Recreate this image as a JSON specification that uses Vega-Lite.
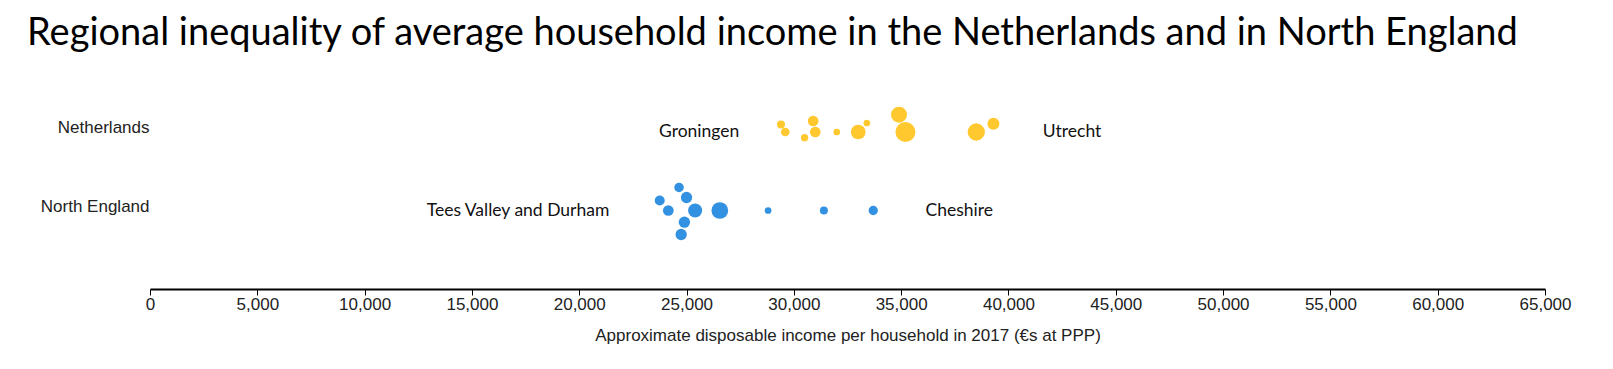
{
  "$schema": "https://vega.github.io/schema/vega-lite/v6.json",
  "width": 1395,
  "height": 235.5,
  "autosize": {"type": "none"},
  "padding": {"left": 150, "right": 68, "top": 53.5, "bottom": 80},
  "background": "white",
  "title": {
    "text": "Regional inequality of average household income in the Netherlands and in North England",
    "anchor": "start",
    "frame": "group",
    "dx": -123,
    "dy": 38.5,
    "font": "Lato",
    "fontSize": 38,
    "fontWeight": "normal",
    "color": "#000",
    "baseline": "alphabetic",
    "offset": 9.5
  },
  "config": {"view": {"stroke": null}},
  "data": {
    "values": [
      {"country": "Netherlands", "income": 29400, "population": 640, "swarm": -7.6, "label": "Groningen"},
      {"country": "Netherlands", "income": 29600, "population": 757, "swarm": 0, "label": ""},
      {"country": "Netherlands", "income": 30900, "population": 1145, "swarm": -11, "label": ""},
      {"country": "Netherlands", "income": 30500, "population": 533, "swarm": 5.7, "label": ""},
      {"country": "Netherlands", "income": 31000, "population": 1145, "swarm": 0, "label": ""},
      {"country": "Netherlands", "income": 32000, "population": 449, "swarm": 0, "label": ""},
      {"country": "Netherlands", "income": 33000, "population": 2161, "swarm": 0, "label": ""},
      {"country": "Netherlands", "income": 33400, "population": 449, "swarm": -9, "label": ""},
      {"country": "Netherlands", "income": 34900, "population": 2560, "swarm": -17.3, "label": ""},
      {"country": "Netherlands", "income": 35200, "population": 4000, "swarm": 0, "label": ""},
      {"country": "Netherlands", "income": 38500, "population": 2993, "swarm": 0, "label": ""},
      {"country": "Netherlands", "income": 39300, "population": 1440, "swarm": -8.3, "label": "Utrecht"},
      {"country": "North England", "income": 23750, "population": 1000, "swarm": -10, "label": "Tees Valley and Durham"},
      {"country": "North England", "income": 24150, "population": 1145, "swarm": 0, "label": ""},
      {"country": "North England", "income": 24650, "population": 903, "swarm": -23, "label": ""},
      {"country": "North England", "income": 25000, "population": 1277, "swarm": -13, "label": ""},
      {"country": "North England", "income": 25400, "population": 1960, "swarm": 0, "label": ""},
      {"country": "North England", "income": 24900, "population": 1277, "swarm": 11.7, "label": ""},
      {"country": "North England", "income": 24750, "population": 1277, "swarm": 24, "label": ""},
      {"country": "North England", "income": 26550, "population": 2789, "swarm": 0, "label": ""},
      {"country": "North England", "income": 28800, "population": 449, "swarm": 0, "label": ""},
      {"country": "North England", "income": 31400, "population": 640, "swarm": 0, "label": ""},
      {"country": "North England", "income": 33700, "population": 865, "swarm": 0, "label": "Cheshire"}
    ]
  },
  "encoding": {
    "x": {
      "field": "income",
      "type": "quantitative",
      "scale": {"domain": [0, 65000], "nice": false},
      "axis": {
        "values": [0, 5000, 10000, 15000, 20000, 25000, 30000, 35000, 40000, 45000, 50000, 55000, 60000, 65000],
        "format": ",d",
        "title": "Approximate disposable income per household in 2017 (€s at PPP)",
        "grid": false,
        "domainColor": "#000",
        "domainWidth": 2,
        "tickColor": "#000",
        "tickWidth": 1,
        "tickSize": 6,
        "labelFont": "Liberation Sans",
        "labelFontSize": 17,
        "labelColor": "#222",
        "labelPadding": 1,
        "labelFlush": false,
        "labelOverlap": false,
        "titleFont": "Liberation Sans",
        "titleFontSize": 17,
        "titleFontWeight": "normal",
        "titleColor": "#222",
        "titlePadding": 15.5
      }
    },
    "y": {
      "field": "country",
      "type": "nominal",
      "sort": ["Netherlands", "North England"],
      "scale": {"type": "point", "padding": 1.05},
      "axis": {
        "title": null,
        "domain": false,
        "ticks": false,
        "tickSize": 0,
        "grid": false,
        "labelPadding": 1,
        "labelFont": "Liberation Sans",
        "labelFontSize": 17,
        "labelColor": "#222",
        "labelOffset": -4.5,
        "labelAlign": "right",
        "labelBaseline": "middle"
      }
    }
  },
  "layer": [
    {
      "mark": {"type": "circle", "opacity": 1},
      "encoding": {
        "yOffset": {"field": "swarm", "type": "quantitative", "scale": {"domain": [-40, 40], "range": [-40, 40]}},
        "size": {"field": "population", "type": "quantitative", "scale": {"type": "linear", "domain": [0, 4000], "range": [0, 400]}, "legend": null},
        "color": {"field": "country", "type": "nominal", "scale": {"domain": ["Netherlands", "North England"], "range": ["#FFC82E", "#3391E1"]}, "legend": null}
      }
    },
    {
      "transform": [{"filter": "datum.label === 'Groningen'"}],
      "mark": {"type": "text", "align": "right", "baseline": "middle", "dx": -41.7, "font": "Lato", "fontSize": 17.5, "color": "#111"},
      "encoding": {"text": {"field": "label"}}
    },
    {
      "transform": [{"filter": "datum.label === 'Tees Valley and Durham'"}],
      "mark": {"type": "text", "align": "right", "baseline": "middle", "dx": -50.4, "font": "Lato", "fontSize": 17.5, "color": "#111"},
      "encoding": {"text": {"field": "label"}}
    },
    {
      "transform": [{"filter": "datum.label === 'Utrecht'"}],
      "mark": {"type": "text", "align": "left", "baseline": "middle", "dx": 49.4, "font": "Lato", "fontSize": 17.5, "color": "#111"},
      "encoding": {"text": {"field": "label"}}
    },
    {
      "transform": [{"filter": "datum.label === 'Cheshire'"}],
      "mark": {"type": "text", "align": "left", "baseline": "middle", "dx": 52.3, "font": "Lato", "fontSize": 17.5, "color": "#111"},
      "encoding": {"text": {"field": "label"}}
    }
  ]
}
